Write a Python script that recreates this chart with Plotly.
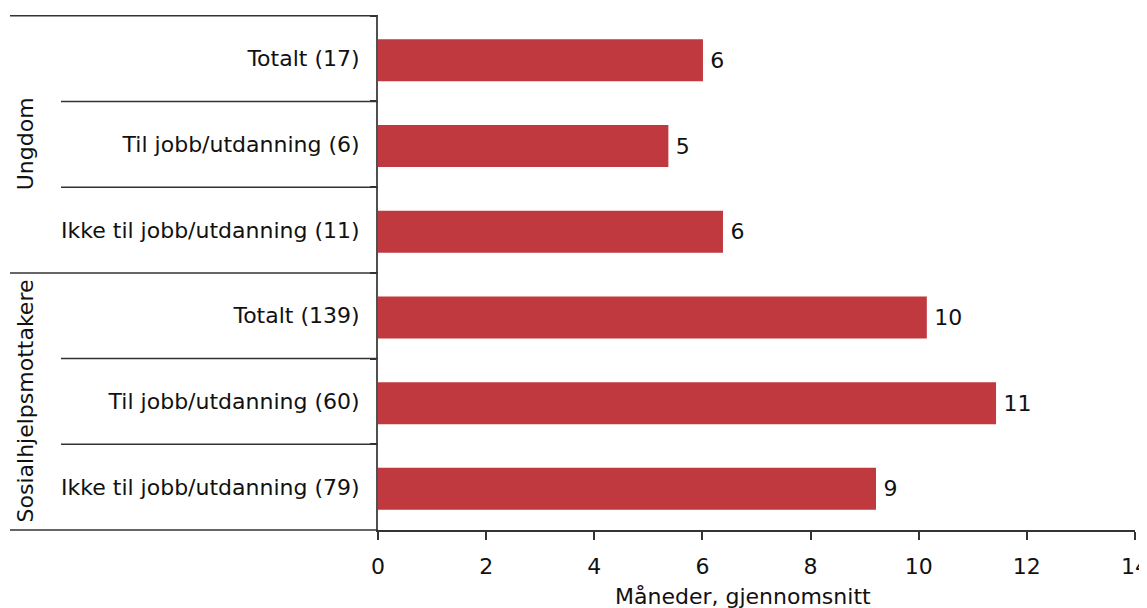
import plotly.graph_objects as go

categories = [
    "Totalt (17)",
    "Til jobb/utdanning (6)",
    "Ikke til jobb/utdanning (11)",
    "Totalt (139)",
    "Til jobb/utdanning (60)",
    "Ikke til jobb/utdanning (79)",
]
groups = ["Ungdom", "Sosialhjelpsmottakere"]
group_sizes = [3, 3]
values = [6.01, 5.37, 6.38, 10.15, 11.43, 9.21]
x_ticks = [0, 2, 4, 6, 8, 10, 12, 14]
x_title = "Måneder, gjennomsnitt"

FONT = "DejaVu Sans"
FS = 22
TXT = "#111111"
LINE = "#333333"
AXIS = "#505050"
BAR = "#C0393F"

OFF = 8  # browser body margin
W, H = 1147 - OFF, 608 - OFF
L, R, T, B = 370, 12, 7, 78
pw = W - L - R
ph = H - T - B

def px_to_paper_x(px):
    return (px - OFF - L) / pw

def px_to_paper_y(py):
    return (H - B - (py - OFF)) / ph

fig = go.Figure(go.Bar(
    x=values, y=categories, orientation="h",
    marker=dict(color=BAR, line=dict(width=0)),
    width=0.49, offset=-0.225,
    texttemplate="\u2009%{x:.0f}", textposition="outside",
    textfont=dict(family=FONT, size=FS, color=TXT),
    cliponaxis=False,
))

shapes = []
bounds = [-0.5 + i for i in range(len(categories) + 1)]
group_edges = {-0.5}
acc = 0
for s in group_sizes:
    acc += s
    group_edges.add(acc - 0.5)
for b in bounds[:-1]:
    x0 = px_to_paper_x(10) if b in group_edges else px_to_paper_x(61)
    shapes.append(dict(type="line", xref="paper", yref="y", x0=x0, x1=0,
                       y0=b, y1=b, line=dict(color=LINE, width=1.5)))
shapes.append(dict(type="line", xref="paper", yref="paper", x0=px_to_paper_x(10), x1=0,
                   y0=0, y1=0, line=dict(color=LINE, width=1.5)))

annotations = []
acc = 0
for g, s in zip(groups, group_sizes):
    mid = acc + (s - 1) / 2
    acc += s
    annotations.append(dict(text=g, xref="paper", yref="y", x=px_to_paper_x(25), y=mid,
                            textangle=-90, showarrow=False, xanchor="center", yanchor="middle",
                            font=dict(family=FONT, size=FS, color=TXT)))
annotations.append(dict(text=x_title, xref="paper", yref="paper", x=px_to_paper_x(743),
                        y=px_to_paper_y(596), showarrow=False, xanchor="center", yanchor="middle",
                        font=dict(family=FONT, size=FS, color=TXT)))

fig.update_layout(
    width=W, height=H,
    margin=dict(l=L, r=R, t=T, b=B, pad=0, autoexpand=False),
    paper_bgcolor="white", plot_bgcolor="white",
    showlegend=False,
    font=dict(family=FONT, size=FS, color=TXT),
    shapes=shapes, annotations=annotations,
    xaxis=dict(range=[0, 14], tickvals=x_ticks, showgrid=False, zeroline=False,
               automargin=False,
               showline=True, linecolor=LINE, linewidth=1.5,
               ticks="outside", ticklen=8, tickcolor=LINE, tickwidth=1.5,
               ticklabeloverflow="allow",
               tickfont=dict(family=FONT, size=FS, color=TXT), ticklabelstandoff=8),
    yaxis=dict(autorange="reversed", type="category", showgrid=False, zeroline=False,
               automargin=False,
               showline=True, linecolor=AXIS, linewidth=2,
               ticks="outside", ticklen=6, tickcolor=LINE, tickwidth=1.5,
               tickson="boundaries", ticklabelstandoff=12,
               tickfont=dict(family=FONT, size=FS, color=TXT)),
)

fig.write_html("out.html")
